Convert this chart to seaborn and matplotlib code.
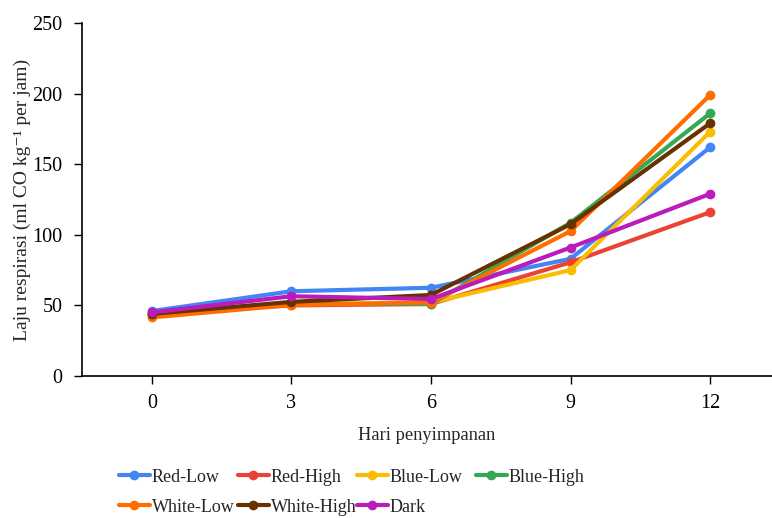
import matplotlib
matplotlib.use("Agg")
import matplotlib.pyplot as plt
import seaborn as sns
import pandas as pd
from matplotlib.lines import Line2D

days = [0, 3, 6, 9, 12]
red_low = [46, 60, 62.5, 83, 162]
red_high = [44, 50, 51, 80.5, 116]
blue_low = [43, 51, 52, 75, 173]
blue_high = [44, 51, 51, 108.5, 186]
white_low = [41.5, 50.3, 52, 102.6, 199]
white_high = [44, 52.5, 57.4, 107.5, 179]
dark = [45, 56.5, 54.5, 91, 129]

series = {
    "Red-Low": red_low,
    "Red-High": red_high,
    "Blue-Low": blue_low,
    "Blue-High": blue_high,
    "White-Low": white_low,
    "White-High": white_high,
    "Dark": dark,
}
colors = ["#4285F4", "#EA4335", "#FBBC04", "#34A853", "#FF6D01", "#663300", "#BB1BBB"]

rows = []
for name, vals in series.items():
    for d, v in zip(days, vals):
        rows.append({"day": d, "value": v, "series": name})
df = pd.DataFrame(rows)

sns.set_style("ticks")
plt.rcParams["font.family"] = ["Liberation Serif", "DejaVu Serif"]

W, H = 772, 518
fig = plt.figure(figsize=(W / 100, H / 100), dpi=100)
ax = fig.add_axes([82 / W, (H - 376) / H, (W - 82) / W, (376 - 23) / H])

sns.lineplot(data=df, x="day", y="value", hue="series", palette=colors,
             hue_order=list(series.keys()), marker="o", markersize=7,
             markeredgewidth=0, linewidth=3, ax=ax, legend=False, sort=False)

ax.set_xlim(-1.5, 13.33)
ax.set_ylim(0, 250)
ax.set_xticks(days)
ax.set_xticklabels([str(d) for d in days])
ax.set_yticks([0, 50, 100, 150, 200, 250])
ax.tick_params(axis="both", labelsize=14.5, colors="black", length=6, width=1)
ax.tick_params(axis="x", pad=7)
ax.tick_params(axis="y", pad=8)
for s in ["top", "right"]:
    ax.spines[s].set_visible(False)
for s in ["left", "bottom"]:
    ax.spines[s].set_color("black")
    ax.spines[s].set_linewidth(1.2)

ax.set_xlabel("Hari penyimpanan", fontsize=13.3, labelpad=10)
ax.set_ylabel("Laju respirasi (ml CO kg\u207b\u00b9 per jam)", fontsize=14, labelpad=1)

# legend: uniform grid of 4 columns x 2 rows (row-major)
names = list(series.keys())
col_x = [119, 238, 357, 476]
row_y = [477, 507]
for i, (name, c) in enumerate(zip(names, colors)):
    r, k = divmod(i, 4)
    h = Line2D([], [], color=c, linewidth=3, marker="o", markersize=7, markeredgewidth=0)
    fig.legend([h], [name], loc="center left",
               bbox_to_anchor=(col_x[k] / W, 1 - row_y[r] / H),
               frameon=False, fontsize=13, handlelength=1.7, handletextpad=0.12,
               borderpad=0, borderaxespad=0)

fig.savefig("out.png", dpi=100)
